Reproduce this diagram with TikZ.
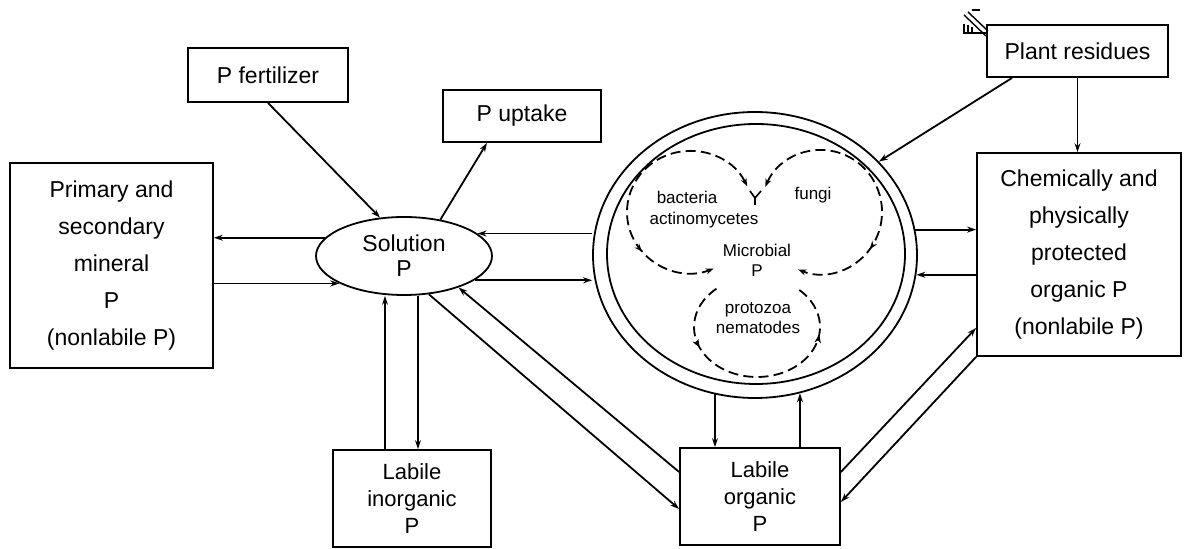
\documentclass[tikz,border=0pt]{standalone}
\usepackage{fontspec}
\setmainfont{Liberation Sans}
\usetikzlibrary{arrows.meta,shapes.geometric,decorations.markings,calc}
\begin{document}
\begin{tikzpicture}[x=0.5pt,y=-0.5pt,line width=0.9pt,
  box/.style={draw,rectangle,inner sep=0pt,align=center,font=\fontsize{11.5}{18.5}\selectfont},
  lab/.style={font=\fontsize{11}{13.5}\selectfont},
  arr/.style={-{Stealth[length=4.5pt,width=3pt]}},
  tip/.style={Stealth[length=4pt,width=3pt]},
  dsh/.style={line width=0.9pt,dash pattern=on 5pt off 2.6pt},
  small/.style={inner sep=0pt,font=\fontsize{8.5}{10}\selectfont,align=center},
  midarrow/.style={postaction={decorate},decoration={markings,mark=at position #1 with {\arrow{Stealth[length=4pt,width=3pt]}}}}
]
\useasboundingbox (0,0) rectangle (1185,549);

% boxes
\node[box,minimum width=101.5pt,minimum height=102.5pt] (prim) at (111.5,265.5) {Primary and\\secondary\\mineral\\P\\(nonlabile P)};
\node[box,minimum width=80pt,minimum height=27pt] (fert) at (268,75) {P fertilizer};
\node[box,minimum width=79pt,minimum height=26pt] (upt) at (522,116) {P uptake};
\node[box,minimum width=90.5pt,minimum height=26pt] (plant) at (1077.5,51) {Plant residues};
\node[box,minimum width=102pt,minimum height=101.5pt] (chem) at (1079,254.5) {Chemically and\\physically\\protected\\organic P\\(nonlabile P)};
\node[box,lab,minimum width=79pt,minimum height=48.5pt] (linorg) at (412,498.5) {Labile\\inorganic\\P};
\node[box,lab,minimum width=80pt,minimum height=48.5pt] (lorg) at (760,496.5) {Labile\\organic\\P};
\node[draw,ellipse,inner sep=0pt,minimum width=88pt,minimum height=39pt,align=center,font=\fontsize{11.5}{12.5}\selectfont] (sol) at (404,256) {Solution\\P};

% microbial double circle
\node[draw,ellipse,inner sep=0pt,minimum width=162pt,minimum height=143pt] (circ) at (755,255) {};
\node[draw,ellipse,inner sep=0pt,minimum width=149pt,minimum height=130pt] (circin) at (756,254) {};

% inner dashed loops
\coordinate (bac) at (690,212);
\coordinate (fun) at (821,212);
\coordinate (pro) at (757,327);
\draw[dsh,{Stealth[length=4pt,width=3pt]}-{Stealth[length=4pt,width=3pt]},midarrow=0.73]
  ($(bac)+(25:31.5pt and 30.5pt)$) arc[start angle=25,end angle=292,x radius=31.5pt,y radius=30.5pt];
\draw[dsh,{Stealth[length=4pt,width=3pt]}-{Stealth[length=4pt,width=3pt]},midarrow=0.72]
  ($(fun)+(156:30.5pt and 31pt)$) arc[start angle=156,end angle=-112,x radius=30.5pt,y radius=31pt];
\draw[dsh,midarrow=0.25,midarrow=0.8]
  ($(pro)+(130:31.5pt and 25pt)$) arc[start angle=130,end angle=410,x radius=31.5pt,y radius=25pt];

% Y junction
\coordinate (yj) at (755,198);
\draw[line width=0.8pt] (750,191) -- (yj) -- (761,191);
\draw[line width=0.8pt] (yj) -- (755,205);

% inner labels
\node[small] (tbac) at (687,197) {bacteria};
\node[small] (tact) at (704,220) {actinomycetes};
\node[small] (tfun) at (813,195) {fungi};
\node[small] (tmic) at (757,260) {Microbial\\P};
\node[small] (tpro) at (758,318) {protozoa\\nematodes};

% connectors: primary <-> solution
\draw[arr] (sol.167) -- (sol.167 -| prim.east);
\draw[arr] (sol.203 -| prim.east) -- (sol.203);
% fertilizer, uptake
\draw[arr] (fert.south) -- (sol.122);
\draw[arr] (sol.45) -- ([xshift=-17.5pt]upt.south);
% solution <-> circle
\draw[arr] (circ.west |- sol.17) -- (sol.17);
\draw[arr] (sol.-19) -- (circ.west |- sol.-19);
% solution <-> labile inorganic
\draw[arr] ([xshift=-13.5pt]linorg.north) -- ([xshift=-13.5pt]linorg.north |- sol.south);
\draw[arr] ([xshift=3pt]linorg.north |- sol.south) -- ([xshift=3pt]linorg.north);
% solution <-> labile organic
\draw[arr] ([yshift=12.25pt]lorg.west) -- (sol.-30);
\draw[arr] (sol.-57) -- ([yshift=-6.25pt]lorg.west);
% circle <-> labile organic
\draw[arr] (circ.-106) -- (circ.-106 |- lorg.north);
\draw[arr] (circ.-72 |- lorg.north) -- (circ.-72);
% circle <-> chemically
\draw[arr] (circ.9) -- (circ.9 -| chem.west);
\draw[arr] (circ.-7.5 -| chem.west) -- (circ.-7.5);
% plant residues
\draw[arr] (plant.south) -- (plant.south |- chem.north);
\draw[arr] ([xshift=13pt]plant.south west) -- (circ.37);
% labile organic <-> chemically
\draw[arr] ([yshift=12.25pt]lorg.east) -- ([yshift=-36.75pt]chem.west);
\draw[arr] (chem.south west) -- ([yshift=-2.75pt]lorg.east);

% small hatched mark near plant residues
\draw[line width=0.7pt] (972,10) -- (980,10);
\draw[line width=0.7pt] (964,15) -- (986,36);
\draw[line width=0.7pt] (968,12) -- (988,31);
\draw[line width=0.7pt] (964,24) -- (964,33) (968,25) -- (968,33) (972,27) -- (972,33) (963,33) -- (986,33);
\end{tikzpicture}
\end{document}
